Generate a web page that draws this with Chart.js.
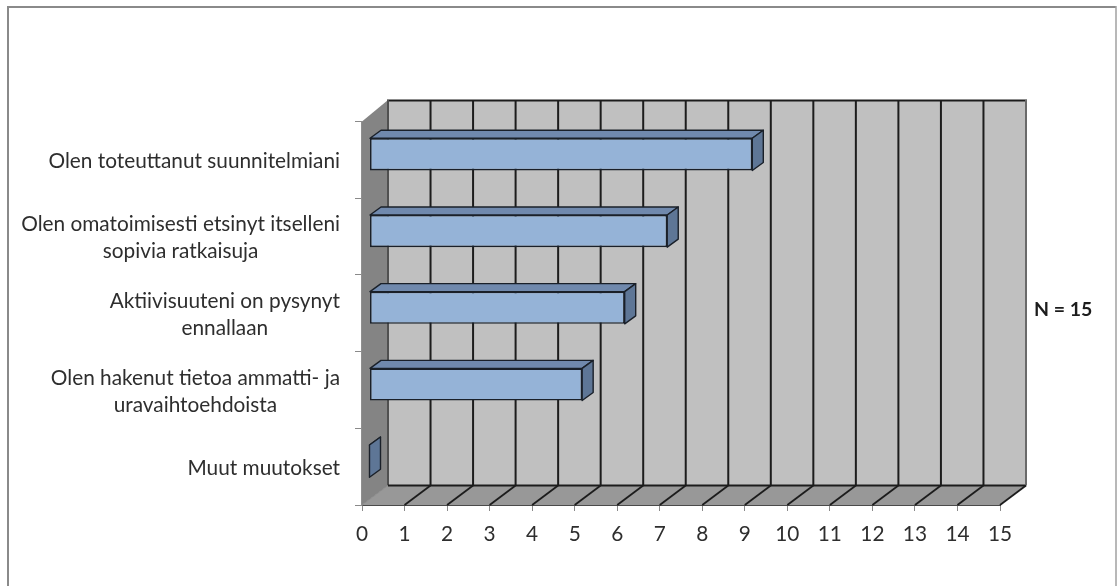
<!DOCTYPE html>
<html>
<head>
<meta charset="utf-8">
<title>Aktiivisuus</title>
<script src="https://cdn.jsdelivr.net/npm/chart.js@4/dist/chart.umd.min.js"></script>
<style>
  html, body { margin: 0; padding: 0; background: #fff; }
  canvas { display: block; }
</style>
</head>
<body>
<canvas id="grafiikka" width="1117" height="586"></canvas>
<script>
// categories, top to bottom, one entry per text line
const KATEGORIAT = [
  ["Olen toteuttanut suunnitelmiani"],
  ["Olen omatoimisesti etsinyt itselleni", "sopivia ratkaisuja"],
  ["Aktiivisuuteni on pysynyt", "ennallaan"],
  ["Olen hakenut tietoa ammatti- ja", "uravaihtoehdoista"],
  ["Muut muutokset"]
];
const ARVOT = [9, 7, 6, 5, 0];
const X_MAX = 15;
const HUOMAUTUS = "N = 15";

const FONTTI = "Lato, 'Open Sans', sans-serif";
const TEKSTI = "#2e2e2e";
const KOKO = 20.8;

// depth of the fake 3D box, and where the bars sit inside it
const SYV_X = 26, SYV_Y = -19.5;
const PALKKI_X = 7.5, PALKKI_Y = -5.5;
const PALKKI_SYV_X = 11, PALKKI_SYV_Y = -8;

function nelikulmio(ctx, pisteet, tayte, viiva, leveys) {
  ctx.beginPath();
  pisteet.forEach((p, i) => i ? ctx.lineTo(p[0], p[1]) : ctx.moveTo(p[0], p[1]));
  ctx.closePath();
  if (tayte) { ctx.fillStyle = tayte; ctx.fill(); }
  if (viiva) { ctx.strokeStyle = viiva; ctx.lineWidth = leveys; ctx.lineJoin = "round"; ctx.stroke(); }
}

function viiva(ctx, x1, y1, x2, y2, vari, leveys) {
  ctx.beginPath();
  ctx.moveTo(x1, y1);
  ctx.lineTo(x2, y2);
  ctx.strokeStyle = vari;
  ctx.lineWidth = leveys;
  ctx.stroke();
}

const kehys = {
  id: "kehys",
  beforeDraw(chart) {
    const ctx = chart.ctx;
    ctx.save();
    ctx.fillStyle = "#ffffff";
    ctx.fillRect(0, 0, chart.width, chart.height);
    viiva(ctx, 8, 7, 1116, 7, "#8a8a8a", 2);
    viiva(ctx, 8, 6, 8, chart.height, "#8a8a8a", 2);
    viiva(ctx, 1116, 6, 1116, chart.height, "#a0a0a0", 1.5);
    ctx.restore();
  }
};

// walls, floor and the side/top faces of the bars; the front faces come from the bar elements
const laatikko = {
  id: "laatikko",
  beforeDatasetsDraw(chart) {
    const ctx = chart.ctx;
    const x = chart.scales.x;
    const y = chart.scales.y;
    const vasen = x.getPixelForValue(0), oikea = x.getPixelForValue(X_MAX);
    const yla = y.top, ala = y.bottom;
    ctx.save();
    // back wall
    nelikulmio(ctx, [[vasen + SYV_X, yla + SYV_Y - 2], [oikea + SYV_X, yla + SYV_Y - 2],
      [oikea + SYV_X, ala + SYV_Y], [vasen + SYV_X, ala + SYV_Y]], "#c0c0c0");
    // left wall
    nelikulmio(ctx, [[vasen, yla], [vasen + SYV_X, yla + SYV_Y - 2],
      [vasen + SYV_X, ala + SYV_Y], [vasen, ala]], "#848484");
    // floor
    nelikulmio(ctx, [[vasen, ala], [vasen + SYV_X, ala + SYV_Y],
      [oikea + SYV_X, ala + SYV_Y], [oikea, ala]], "#989898");

    viiva(ctx, vasen + SYV_X - 1, yla + SYV_Y - 1.5, oikea + SYV_X + 1, yla + SYV_Y - 1.5, "#1c1c1c", 2);
    viiva(ctx, vasen + SYV_X, yla + SYV_Y - 2, vasen + SYV_X, ala + SYV_Y, "#505050", 2);
    viiva(ctx, vasen + SYV_X, ala + SYV_Y, oikea + SYV_X, ala + SYV_Y, "#1c1c1c", 2);
    viiva(ctx, vasen, ala, vasen + SYV_X, ala + SYV_Y, "#8a8a8a", 1);
    x.ticks.forEach(t => {
      if (t.value === 0) return;
      const px = x.getPixelForValue(t.value);
      const seina = t.value === X_MAX ? "#6a6a6a" : "#1c1c1c";
      viiva(ctx, px + SYV_X, yla + SYV_Y - 2, px + SYV_X, ala + SYV_Y, seina, 2);
      viiva(ctx, px, ala, px + SYV_X, ala + SYV_Y, "#1c1c1c", 1.8);
    });

    // top and end faces
    chart.getDatasetMeta(0).data.forEach(pylvas => {
      const x0 = pylvas.base + PALKKI_X, x1 = pylvas.x + PALKKI_X;
      const y0 = pylvas.y - pylvas.height / 2 + PALKKI_Y, y1 = pylvas.y + pylvas.height / 2 + PALKKI_Y;
      nelikulmio(ctx, [[x0, y0], [x0 + PALKKI_SYV_X, y0 + PALKKI_SYV_Y],
        [x1 + PALKKI_SYV_X, y0 + PALKKI_SYV_Y], [x1, y0]], "#7089ad", "#1a2029", 1.4);
      nelikulmio(ctx, [[x1, y0], [x1 + PALKKI_SYV_X, y0 + PALKKI_SYV_Y],
        [x1 + PALKKI_SYV_X, y1 + PALKKI_SYV_Y], [x1, y1]], "#5e7696", "#1a2029", 1.4);
    });
    ctx.restore();

    // the bars stand a little way inside the box
    ctx.save();
    ctx.translate(PALKKI_X, PALKKI_Y);
  },
  afterDatasetsDraw(chart) {
    chart.ctx.restore();
  }
};

// category labels are right-aligned as a block, with the lines centred inside it
const selitteet = {
  id: "selitteet",
  afterDraw(chart) {
    const ctx = chart.ctx;
    const y = chart.scales.y;
    const rivi = 27;
    ctx.save();
    ctx.font = KOKO + "px " + FONTTI;
    ctx.fillStyle = TEKSTI;
    ctx.textAlign = "center";
    ctx.textBaseline = "middle";
    KATEGORIAT.forEach((rivit, i) => {
      const leveys = Math.max(...rivit.map(r => ctx.measureText(r).width));
      const keski = y.getPixelForValue(i) + 1.5;
      rivit.forEach((r, j) => {
        ctx.fillText(r, 340 - leveys / 2, keski + (j - (rivit.length - 1) / 2) * rivi);
      });
    });
    ctx.font = "bold 19.5px " + FONTTI;
    ctx.fillStyle = "#1c1c1c";
    ctx.textAlign = "left";
    ctx.fillText(HUOMAUTUS, 1034, 310);
    ctx.restore();
  }
};

new Chart(document.getElementById("grafiikka"), {
  type: "bar",
  data: {
    labels: KATEGORIAT.map(r => r.join(" ")),
    datasets: [{
      data: ARVOT,
      backgroundColor: "#95b3d7",
      borderColor: "#1a2029",
      borderWidth: 1.6,
      borderSkipped: false,
      barPercentage: 0.42,
      categoryPercentage: 1,
      clip: false
    }]
  },
  options: {
    indexAxis: "y",
    responsive: false,
    animation: false,
    layout: { padding: { left: 0, top: 121.5, right: 117, bottom: 0 } },
    plugins: { legend: { display: false }, tooltip: { enabled: false }, title: { display: false } },
    scales: {
      x: {
        min: 0,
        max: X_MAX,
        afterFit(s) { s.height = 81; },
        grid: { drawOnChartArea: false, drawTicks: true, tickLength: 6, color: "#8a8a8a" },
        border: { color: "#4a4a4a", width: 2 },
        ticks: {
          stepSize: 1,
          autoSkip: false,
          maxRotation: 0,
          padding: 11,
          color: TEKSTI,
          font: { family: FONTTI, size: KOKO }
        }
      },
      y: {
        afterFit(s) { s.width = 362; },
        grid: { drawOnChartArea: false, drawTicks: true, tickLength: 7, color: "#8a8a8a" },
        border: { color: "#8f8f8f", width: 1.5 },
        ticks: { display: false }
      }
    }
  },
  plugins: [kehys, laatikko, selitteet]
});
</script>
</body>
</html>
